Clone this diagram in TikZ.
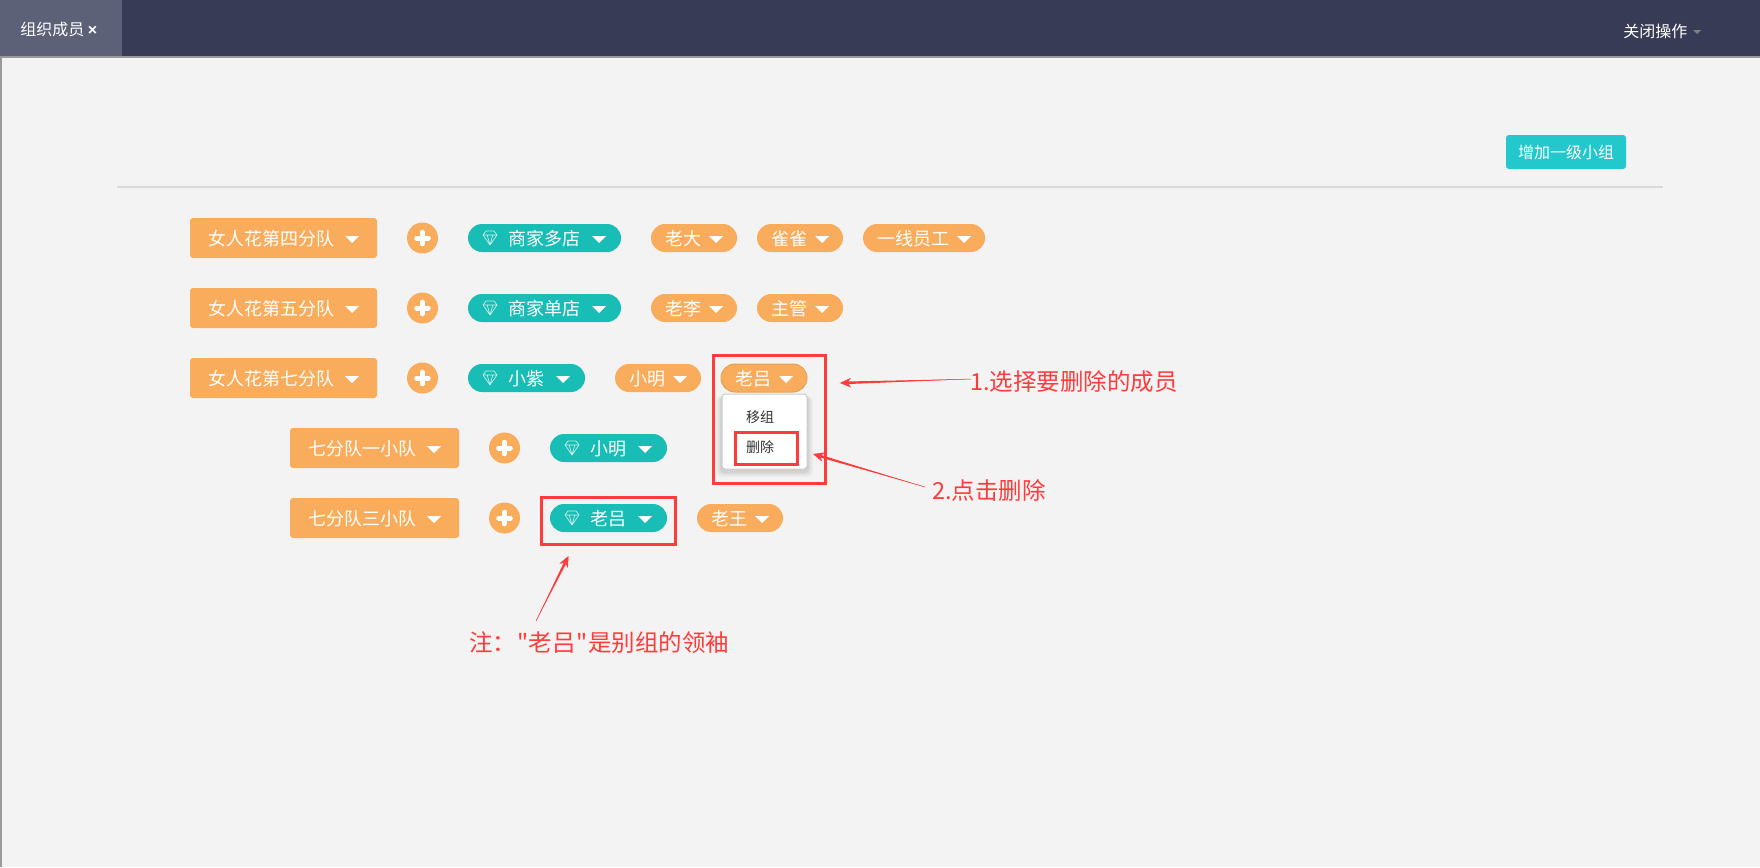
\documentclass[tikz,border=0pt]{standalone}
\usepackage{fontspec}
\setmainfont{Noto Sans CJK SC}
\newfontfamily\closefont{Liberation Sans}
\newfontfamily\notefont{Noto Sans CJK SC}
\usetikzlibrary{arrows.meta, positioning, calc}

\definecolor{headerblue}{HTML}{373B55}
\definecolor{tabgrey}{HTML}{5D6177}
\definecolor{pagegrey}{HTML}{F3F3F3}
\definecolor{edgegrey}{HTML}{999999}
\definecolor{orangefill}{HTML}{F9AD5C}
\definecolor{tealfill}{HTML}{18BDB5}
\definecolor{addteal}{HTML}{22C8CC}
\definecolor{markred}{HTML}{FF3B3B}

\newcommand{\caret}[2]{\fill[white] ([xshift=-#2pt]#1.east) ++(-3.5pt,1pt) -- ++(7pt,0) -- ++(-3.5pt,-3.5pt) -- cycle;}
\newcommand{\gem}[1]{\draw[white!75!tealfill, line width=.35pt, line join=round] ([xshift=11pt]#1.west) ++(-2pt,3.5pt) -- ++(4pt,0) -- ++(1.5pt,-2pt) -- ++(-3.5pt,-5pt) -- ++(-3.5pt,5pt) -- cycle
  ([xshift=11pt,yshift=1.5pt]#1.west) ++(-3.5pt,0) -- ++(7pt,0)
  ([xshift=11pt,yshift=1.5pt]#1.west) ++(-1.4pt,0) -- ++(1.4pt,-5pt) -- ++(1.4pt,5pt);}
\newcommand{\plusicon}[1]{\draw[white, line width=2.5pt, line cap=round] ([xshift=-2.9pt]#1.center) -- ([xshift=2.9pt]#1.center) ([yshift=-2.9pt]#1.center) -- ([yshift=2.9pt]#1.center);}
\newcommand{\taper}[2]{\coordinate (neck) at ($(#2)!4pt!(#1)$);
  \fill[markred] (#1) -- ($(neck)!.65pt!90:(#2)$) -- ($(neck)!.65pt!-90:(#2)$) -- cycle;}

\begin{document}
\begin{tikzpicture}[x=.5pt, y=-.5pt, >=Stealth,
team button/.style={
rectangle,
fill=orangefill,
rounded corners=1.5pt,
text=white,
outer sep=0pt,
minimum height=20pt,
inner sep=0pt,
align=left,
font=\fontsize{9}{11}\selectfont,
text height=8.5pt,
text depth=1.2pt
},
plus circle/.style={
circle,
fill=orangefill,
outer sep=0pt,
inner sep=0pt,
minimum size=15.5pt
},
leader pill/.style={
rectangle,
fill=tealfill,
rounded corners=7pt,
text=white,
outer sep=0pt,
minimum height=14pt,
inner sep=0pt,
align=left,
font=\fontsize{9}{11}\selectfont,
text height=8.5pt,
text depth=1.2pt
},
member pill/.style={
leader pill,
fill=orangefill
},
red box/.style={
rectangle,
draw=markred,
line width=1.5pt,
outer sep=0pt,
inner sep=0pt
},
note text/.style={
text=markred,
inner sep=0pt,
outer sep=0pt,
anchor=west,
font=\notefont\fontsize{11.75}{14}\selectfont
},
menu text/.style={
text=black!80,
inner sep=0pt,
font=\fontsize{7}{9}\selectfont
},
red arrow/.style={
-{Stealth[length=5.5pt, width=4.8pt]},
draw=markred,
line width=.25pt
}
]
\useasboundingbox (0,0) rectangle (1760,867);

% page
\fill[pagegrey] (0,0) rectangle (1760,867);
\fill[edgegrey] (0,56) rectangle (2,867);
\fill[edgegrey] (0,56) rectangle (1760,58);
\fill[headerblue] (0,0) rectangle (1760,56);
\fill[tabgrey] (0,0) rectangle (122,56);
\draw[black!15, line width=1pt] (117,187) -- (1663,187);

\node[text=white, inner sep=0pt, anchor=west, font=\fontsize{8}{10}\selectfont] (tab) at (20,29) {组织成员 {\closefont\bfseries ×}};
\node[text=white, inner sep=0pt, anchor=west, font=\fontsize{8}{10}\selectfont] (close) at (1623,31) {关闭操作};
\fill[black!50] (1693,30) -- (1701,30) -- (1697,34) -- cycle;

\node[rectangle, fill=addteal, rounded corners=1.5pt, text=white, minimum width=60pt, minimum height=17pt, inner sep=0pt, font=\fontsize{8}{10}\selectfont] (add) at (1566,152) {增加一级小组};

% row 1
\node[team button, anchor=west] (b1) at (190,238) {\hspace{9pt}女人花第四分队\hspace{21.5pt}};
\node[plus circle] (c1) [right=15pt of b1] {};
\node[leader pill] (l1) [right=15pt of c1] {\hspace{20pt}商家多店\hspace{20.5pt}};
\node[member pill] (m1) [right=15pt of l1] {\hspace{7pt}老大\hspace{18pt}};
\node[member pill] (m2) [right=10pt of m1] {\hspace{7pt}雀雀\hspace{18pt}};
\node[member pill] (m3) [right=10pt of m2] {\hspace{7pt}一线员工\hspace{18pt}};

% row 2
\node[team button] (b2) [below=15pt of b1] {\hspace{9pt}女人花第五分队\hspace{21.5pt}};
\node[plus circle] (c2) [right=15pt of b2] {};
\node[leader pill] (l2) [right=15pt of c2] {\hspace{20pt}商家单店\hspace{20.5pt}};
\node[member pill] (m4) [right=15pt of l2] {\hspace{7pt}老李\hspace{18pt}};
\node[member pill] (m5) [right=10pt of m4] {\hspace{7pt}主管\hspace{18pt}};

% row 3
\node[team button] (b3) [below=15pt of b2] {\hspace{9pt}女人花第七分队\hspace{21.5pt}};
\node[plus circle] (c3) [right=15pt of b3] {};
\node[leader pill] (l3) [right=15pt of c3] {\hspace{20pt}小紫\hspace{20.5pt}};
\node[member pill] (m6) [right=15pt of l3] {\hspace{7pt}小明\hspace{18pt}};
\node[member pill, draw=orangefill!93!black, line width=.5pt] (m7) [right=10pt of m6] {\hspace{7pt}老吕\hspace{18pt}};

% row 4
\node[team button, anchor=west] (b4) at (290,448) {\hspace{9pt}七分队一小队\hspace{21.5pt}};
\node[plus circle] (c4) [right=15pt of b4] {};
\node[leader pill] (l4) [right=15pt of c4] {\hspace{20pt}小明\hspace{20.5pt}};

% row 5
\node[team button] (b5) [below=15pt of b4] {\hspace{9pt}七分队三小队\hspace{21.5pt}};
\node[plus circle] (c5) [right=15pt of b5] {};
\node[leader pill] (l5) [right=15pt of c5] {\hspace{20pt}老吕\hspace{20.5pt}};
\node[member pill] (m8) [right=15pt of l5] {\hspace{7pt}老王\hspace{18pt}};

\caret{b1}{12.5} \caret{b2}{12.5} \caret{b3}{12.5} \caret{b4}{12.5} \caret{b5}{12.5}
\caret{l1}{11} \caret{l2}{11} \caret{l3}{11} \caret{l4}{11} \caret{l5}{11}
\caret{m1}{10.5} \caret{m2}{10.5} \caret{m3}{10.5} \caret{m4}{10.5}
\caret{m5}{10.5} \caret{m6}{10.5} \caret{m7}{10.5} \caret{m8}{10.5}
\gem{l1} \gem{l2} \gem{l3} \gem{l4} \gem{l5}
\plusicon{c1} \plusicon{c2} \plusicon{c3} \plusicon{c4} \plusicon{c5}

% menu
\fill[black, opacity=.03, rounded corners=3pt] (716,396) rectangle (813,477);
\fill[black, opacity=.05, rounded corners=2.5pt] (718,396) rectangle (811,475);
\fill[black, opacity=.06, rounded corners=2pt] (720,396) rectangle (809,473);
\node[rectangle, fill=white, draw=black!20, line width=.5pt, rounded corners=1.5pt, minimum width=42.5pt, minimum height=37.5pt, inner sep=0pt] (menu) at (764.5,431.5) {};
\node[menu text] (move) at (760,417) {移组};
\node[menu text] (del) at (760,447) {删除};

% marks
\node[red box, minimum width=56pt, minimum height=64pt] (box1) at (769.5,419.5) {};
\node[red box, minimum width=31pt, minimum height=16pt] (box2) at (766.5,448.5) {};
\node[red box, minimum width=67pt, minimum height=23.5pt] (box3) at (608.5,521) {};

\node[note text] (note1) at (970,382) {1.选择要删除的成员};
\node[note text] (note2) at (932,490) {2.点击删除};
\node[note text] (note3) at (469,643) {注：\kern.6pt"\kern.3pt老吕\kern.3pt"\kern.3pt是别组的领袖};

\coordinate (tail1) at (971,379);
\coordinate (tail2) at (925,487);
\coordinate (tail3) at (536,621);
\coordinate (tip1) at (840,383);
\coordinate (tip2) at (813,454);
\coordinate (tip3) at (568.5,556);

\taper{tail1}{tip1}
\taper{tail2}{tip2}
\taper{tail3}{tip3}
\draw[red arrow] (tail1) -- (tip1);
\draw[red arrow] (tail2) -- (tip2);
\draw[red arrow] (tail3) -- (tip3);

\end{tikzpicture}
\end{document}
